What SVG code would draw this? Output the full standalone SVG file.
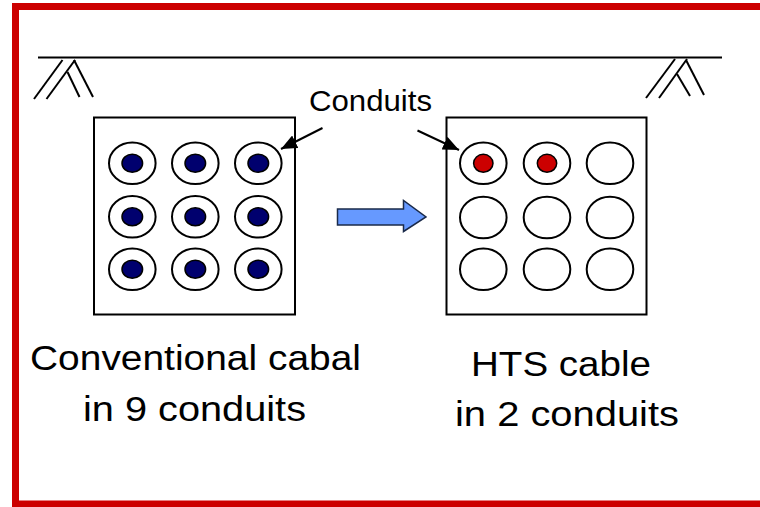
<svg xmlns="http://www.w3.org/2000/svg" width="760" height="507" viewBox="0 0 760 507">
  <style>
    .ln { stroke: #000; stroke-width: 2; fill: none; }
    .box { fill: #fff; stroke: #000; stroke-width: 2; }
    .duct { fill: #fff; stroke: #000; stroke-width: 2; }
    .conv { fill: #00006e; stroke: #000; stroke-width: 1.5; }
    .hts { fill: #cc0000; stroke: #000; stroke-width: 1.5; }
    .cap { font-family: "Liberation Sans", Arial, sans-serif; font-size: 35px; fill: #000; }
    .lbl { font-family: "Liberation Sans", Arial, sans-serif; font-size: 30px; fill: #000; }
  </style>
  <defs>
    <marker id="tip" viewBox="0 0 16 14" refX="16" refY="7" markerWidth="16" markerHeight="14" markerUnits="userSpaceOnUse" orient="auto">
      <path d="M0,0 L16,7 L0,14 z" fill="#000"/>
    </marker>
  </defs>

  <rect width="760" height="507" fill="#fff"/>
  <!-- red frame, open on the right -->
  <rect x="15.5" y="6.5" width="760" height="497.5" fill="none" stroke="#cc0000" stroke-width="7"/>

  <!-- ceiling with hatched supports -->
  <g id="ceiling">
    <line class="ln" x1="38" y1="57.5" x2="722" y2="57.5"/>
    <line class="ln" x1="62.5" y1="60" x2="34" y2="99"/>
    <line class="ln" x1="75" y1="60" x2="46.5" y2="99"/>
    <line class="ln" x1="67.5" y1="72" x2="79.5" y2="97"/>
    <line class="ln" x1="74" y1="60" x2="93" y2="97"/>
    <line class="ln" x1="675" y1="59" x2="646" y2="98"/>
    <line class="ln" x1="687" y1="59" x2="659" y2="98"/>
    <line class="ln" x1="677" y1="74" x2="690" y2="96"/>
    <line class="ln" x1="686" y1="60" x2="704" y2="95"/>
  </g>

  <!-- nine conduits, all occupied -->
  <g id="conventional">
    <rect class="box" x="94" y="117.5" width="201" height="197"/>
    <g class="duct">
      <ellipse cx="132.3" cy="163.3" rx="23.3" ry="20.8"/>
      <ellipse cx="195.3" cy="163.3" rx="23.3" ry="20.8"/>
      <ellipse cx="258.3" cy="163.3" rx="23.3" ry="20.8"/>
      <ellipse cx="132.3" cy="216.8" rx="23.3" ry="20.8"/>
      <ellipse cx="195.3" cy="216.8" rx="23.3" ry="20.8"/>
      <ellipse cx="258.3" cy="216.8" rx="23.3" ry="20.8"/>
      <ellipse cx="132.3" cy="269.3" rx="23.3" ry="20.8"/>
      <ellipse cx="195.3" cy="269.3" rx="23.3" ry="20.8"/>
      <ellipse cx="258.3" cy="269.3" rx="23.3" ry="20.8"/>
    </g>
    <g class="conv">
      <ellipse cx="132.3" cy="163.3" rx="10.3" ry="9"/>
      <ellipse cx="195.3" cy="163.3" rx="10.3" ry="9"/>
      <ellipse cx="258.3" cy="163.3" rx="10.3" ry="9"/>
      <ellipse cx="132.3" cy="216.8" rx="10.3" ry="9"/>
      <ellipse cx="195.3" cy="216.8" rx="10.3" ry="9"/>
      <ellipse cx="258.3" cy="216.8" rx="10.3" ry="9"/>
      <ellipse cx="132.3" cy="269.3" rx="10.3" ry="9"/>
      <ellipse cx="195.3" cy="269.3" rx="10.3" ry="9"/>
      <ellipse cx="258.3" cy="269.3" rx="10.3" ry="9"/>
    </g>
    <text class="cap" x="30" y="370" textLength="331" lengthAdjust="spacingAndGlyphs">Conventional cabal</text>
    <text class="cap" x="83" y="421" textLength="223" lengthAdjust="spacingAndGlyphs">in 9 conduits</text>
  </g>

  <!-- nine conduits, two occupied by HTS cable -->
  <g id="hts">
    <rect class="box" x="446.5" y="117.5" width="200" height="197"/>
    <g class="duct">
      <ellipse cx="483.3" cy="163.3" rx="23.3" ry="20.8"/>
      <ellipse cx="547" cy="163.3" rx="23.3" ry="20.8"/>
      <ellipse cx="610" cy="163.3" rx="23.3" ry="20.8"/>
      <ellipse cx="483.3" cy="217.5" rx="23.3" ry="20.8"/>
      <ellipse cx="547" cy="217.5" rx="23.3" ry="20.8"/>
      <ellipse cx="610" cy="217.5" rx="23.3" ry="20.8"/>
      <ellipse cx="483.3" cy="269.3" rx="23.3" ry="20.8"/>
      <ellipse cx="547" cy="269.3" rx="23.3" ry="20.8"/>
      <ellipse cx="610" cy="269.3" rx="23.3" ry="20.8"/>
    </g>
    <g class="hts">
      <ellipse cx="483.3" cy="163.3" rx="9.7" ry="9"/>
      <ellipse cx="547" cy="163.3" rx="9.7" ry="9"/>
    </g>
    <text class="cap" x="471" y="375.5" textLength="180" lengthAdjust="spacingAndGlyphs">HTS cable</text>
    <text class="cap" x="455" y="426" textLength="224" lengthAdjust="spacingAndGlyphs">in 2 conduits</text>
  </g>

  <g id="label">
    <text class="lbl" x="309" y="111" textLength="123" lengthAdjust="spacingAndGlyphs">Conduits</text>
  </g>

  <!-- connectors: pointers from the label and the transition arrow -->
  <g id="connectors">
    <line class="ln" x1="322.5" y1="128" x2="281" y2="149" marker-end="url(#tip)"/>
    <line class="ln" x1="417.5" y1="130.5" x2="459" y2="150" marker-end="url(#tip)"/>
    <path d="M337.5,209 L403.5,209 L403.5,200.5 L426,217 L403.5,231.5 L403.5,225 L337.5,225 Z" fill="#6699ff" stroke="#1a2a4a" stroke-width="1.5"/>
  </g>
</svg>
